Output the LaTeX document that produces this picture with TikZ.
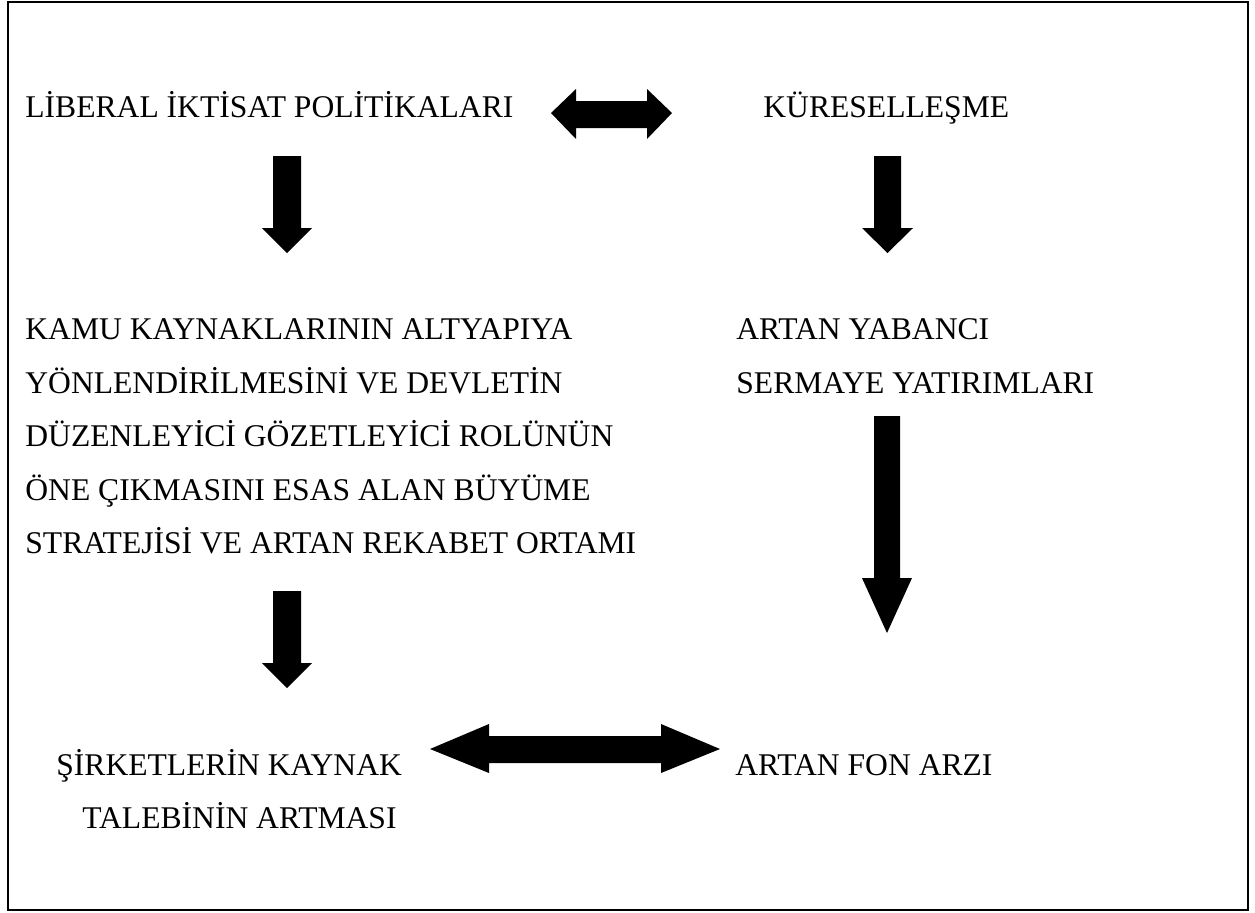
\documentclass[tikz,border=0pt]{standalone}
\usepackage{fontspec}
\setmainfont{Liberation Serif}
\begin{document}
\begin{tikzpicture}[x=0.5pt,y=-0.5pt,
  lbl/.style={anchor=base west,inner sep=0pt,font=\fontsize{15.8}{19}\selectfont},
  blk/.style={fill=black}]
\useasboundingbox (0,0) rectangle (1255,912);
\draw[line width=1.2pt] (8,2) rectangle (1248,910);
% texts
\node[lbl] (lib) at (25,117) {LİBERAL İKTİSAT POLİTİKALARI};
\node[lbl] (kur) at (763,117) {KÜRESELLEŞME};
\node[lbl] (k1) at (25,339) {KAMU KAYNAKLARININ ALTYAPIYA};
\node[lbl] (k2) at (25,393) {YÖNLENDİRİLMESİNİ VE DEVLETİN};
\node[lbl] (k3) at (25,446) {DÜZENLEYİCİ GÖZETLEYİCİ ROLÜNÜN};
\node[lbl] (k4) at (25,500) {ÖNE ÇIKMASINI ESAS ALAN BÜYÜME};
\node[lbl] (k5) at (25,553) {STRATEJİSİ VE ARTAN REKABET ORTAMI};
\node[lbl] (y1) at (736,339) {ARTAN YABANCI};
\node[lbl] (y2) at (736,393) {SERMAYE YATIRIMLARI};
\node[lbl] (s1) at (56,775) {ŞİRKETLERİN KAYNAK};
\node[lbl] (s2) at (82,828) {TALEBİNİN ARTMASI};
\node[lbl] (fon) at (735,775) {ARTAN FON ARZI};
% block arrows
\fill[blk] (551,113) -- (576,89) -- (576,101) -- (647,101) -- (647,89) -- (672,113)
  -- (647,139) -- (647,128) -- (576,128) -- (576,139) -- cycle;
\fill[blk] (273,156) -- (301,156) -- (301,228) -- (312,228) -- (287,253) -- (262,228) -- (273,228) -- cycle;
\fill[blk] (874,156) -- (901,156) -- (901,228) -- (913,228) -- (887.5,253) -- (862,228) -- (874,228) -- cycle;
\fill[blk] (874,416) -- (900,416) -- (900,578) -- (912,578) -- (887,633) -- (862,578) -- (874,578) -- cycle;
\fill[blk] (273,591) -- (301,591) -- (301,663) -- (312,663) -- (287,688) -- (262,663) -- (273,663) -- cycle;
\fill[blk] (430,749) -- (489,724) -- (489,736) -- (661,736) -- (661,724) -- (720,749)
  -- (661,773) -- (661,763) -- (489,763) -- (489,773) -- cycle;
\end{tikzpicture}
\end{document}
